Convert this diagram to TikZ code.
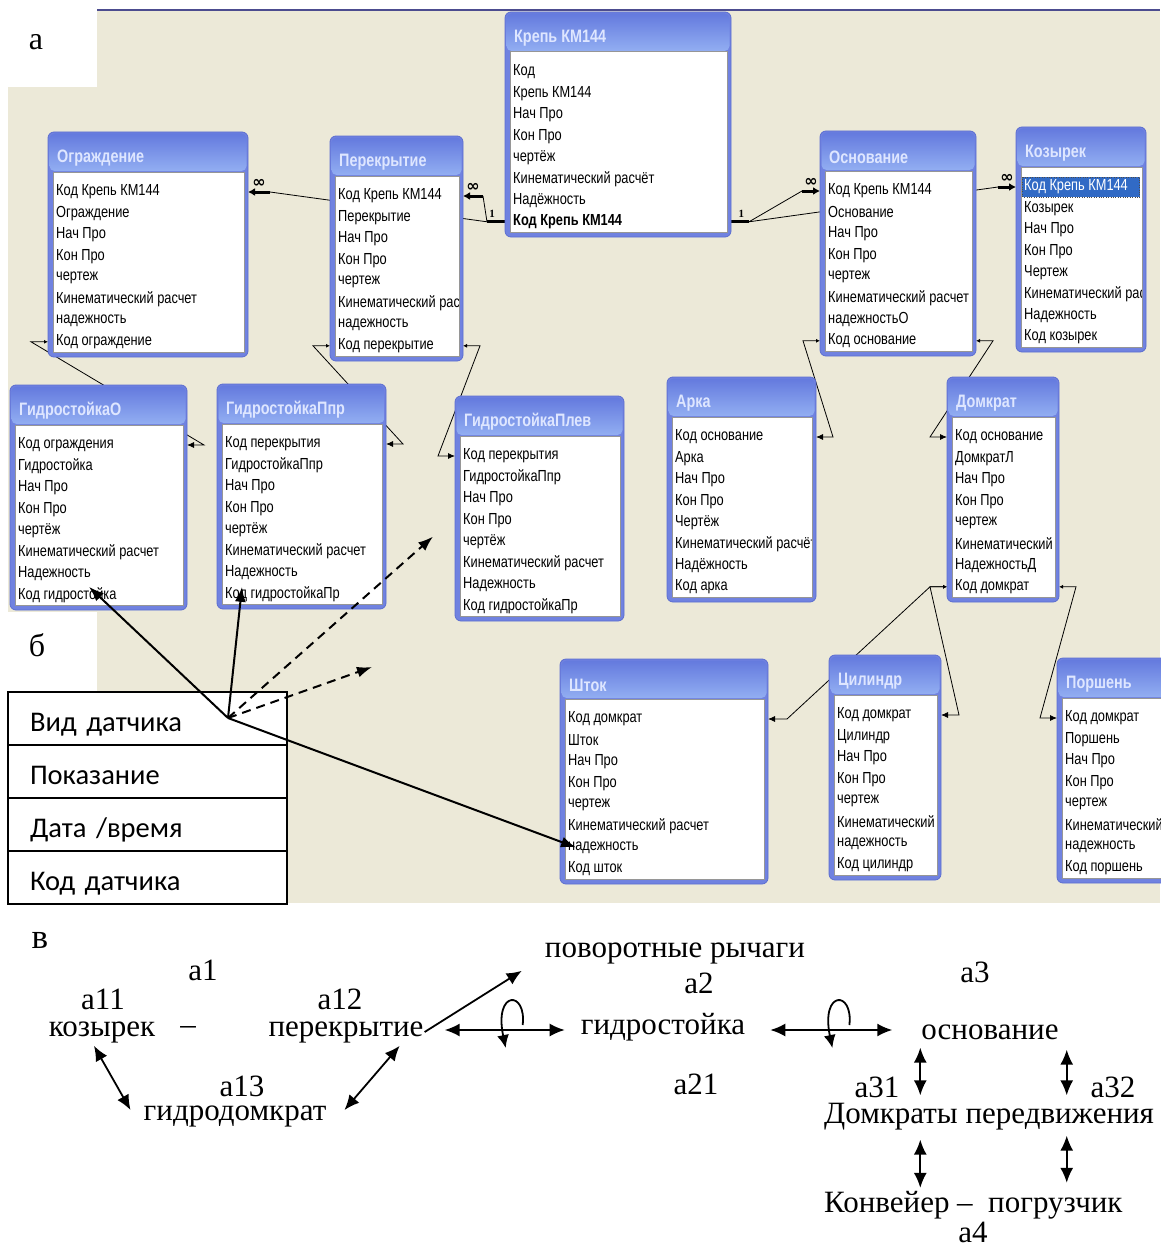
\documentclass[tikz,border=0pt]{standalone}
\usepackage{fontspec}
\usetikzlibrary{arrows.meta,calc,positioning}
\setmainfont{Liberation Serif}
\newfontfamily\acfont{Liberation Sans}[FakeStretch=0.8]
\newfontfamily\calfont{Carlito}
\newfontfamily\symfont{DejaVu Sans}

\definecolor{beige}{RGB}{236,233,216}
\definecolor{frameblue}{RGB}{112,130,224}
\definecolor{frameedge}{RGB}{92,110,208}
\definecolor{hdrtop}{RGB}{100,122,222}
\definecolor{hdrbot}{RGB}{146,174,242}
\definecolor{titlecol}{RGB}{222,230,255}
\definecolor{listedge}{RGB}{150,150,150}
\definecolor{selblue}{RGB}{49,106,197}

\pgfdeclarelayer{bg}
\pgfdeclarelayer{lines}
\pgfsetlayers{bg,lines,main}

\tikzset{
  tableframe/.style={draw=frameedge, fill=frameblue, rounded corners=6pt, line width=0.8pt,
                     inner sep=0pt, outer sep=0pt, anchor=north west, minimum height=225pt},
  tabletitle/.style={anchor=west, inner sep=0pt, text=titlecol,
                     font=\acfont\bfseries\fontsize{18}{20}\selectfont},
  field/.style={anchor=west, inner sep=0pt, font=\acfont\fontsize{16}{18}\selectfont},
  selfield/.style={field, text=white},
  joinline/.style={line width=0.8pt, {Latex[length=4pt,width=4pt]}-{Latex[length=7pt,width=6pt]}},
  onestub/.style={line width=3pt},
  manystub/.style={line width=3pt, -{Latex[length=7pt,width=8pt]}},
  onelab/.style={inner sep=1pt, font=\bfseries\fontsize{11}{11}\selectfont},
  inflab/.style={inner sep=0pt, font=\symfont\bfseries\fontsize{16}{16}\selectfont},
  sensrow/.style={draw, line width=1.5pt, fill=white, minimum width=279pt, minimum height=53pt,
                  text width=235pt, inner xsep=22pt, outer sep=0pt, align=left,
                  text height=29pt, text depth=4pt, font=\calfont\fontsize{28.5}{30}\selectfont},
  sensarrow/.style={line width=2pt, -{Latex[length=15pt,width=11pt]}},
  sensdash/.style={sensarrow, dash pattern=on 9pt off 6pt},
  word/.style={inner sep=1pt, font=\fontsize{31}{33}\selectfont},
  sglbar/.style={line width=1.8pt, -{Latex[length=15pt,width=13pt]}},
  dblbar/.style={line width=1.8pt, {Latex[length=15pt,width=13pt]}-{Latex[length=15pt,width=13pt]}},
  loopbar/.style={line width=1.8pt, -{Latex[length=13pt,width=12pt]}}
}

\newcommand{\dbtable}[7]{%
  \node[tableframe, minimum width=#4pt] (#1) at (#2,#3) {};
  \begin{scope}[shift={(#2,#3)}]
    \shade[top color=hdrtop, bottom color=hdrbot, rounded corners=5pt] (1.5,1.5) rectangle (#4-1.5,39);
    \fill[white] (5,40) rectangle (#4-4,220);
    \draw[listedge, line width=1pt] (5,40) rectangle (#4-4,220);
    \node[tabletitle] at (9,26) {#5};
    \begin{scope}
      \clip (6,41) rectangle (#4-5,219);
      \foreach \f [count=\i] in {#7} {
        \ifnum\i=#6
          \fill[selblue] (6,{60+21.4*(\i-1)-10}) rectangle (#4-6,{60+21.4*(\i-1)+10});
          \draw[black!70, dotted] (6.5,{60+21.4*(\i-1)-10}) rectangle (#4-6.5,{60+21.4*(\i-1)+10});
          \node[selfield] (#1-\i) at (8,{60+21.4*(\i-1)}) {\f};
        \else
          \node[field] (#1-\i) at (8,{60+21.4*(\i-1)}) {\f};
        \fi
      }
    \end{scope}
  \end{scope}}

\newcommand{\joinline}[6]{%
  \draw[joinline] (#1 |- #2) -- ++(#3,0) -- ($(#4 |- #5)+(#6,0)$) -- (#4 |- #5);}

\newcommand{\manyend}[4]{%
  \draw[line width=0.8pt] (#1) -- ($(#2 |- #3)+(#4,0)$);
  \draw[manystub] ($(#2 |- #3)+(#4,0)$) -- node[midway, above=3pt, inflab] {∞} (#2 |- #3);}

\begin{document}
\begin{tikzpicture}[x=1pt, y=-1pt]
  \useasboundingbox (0,0) rectangle (1160,1244);

  \begin{pgfonlayer}{bg}
    \fill[beige] (8,10) rectangle (1160,903);
    \fill[white] (0,0) rectangle (97,87);
    \fill[white] (0,612) rectangle (97,692);
    \draw[line width=2pt, black!35!blue!40!gray] (97,10) -- (1160,10);
  \end{pgfonlayer}

  \node[word, font=\fontsize{32}{34}\selectfont] (alab) at (36,42) {а};
  \node[word, font=\fontsize{32}{34}\selectfont] (blab) at (37,645) {б};

  \dbtable{krep}{505}{12}{226}{Крепь КМ144}{0}{Код, Крепь КМ144, Нач Про, Кон Про, чертёж,
    Кинематический расчёт, Надёжность, {\bfseries Код Крепь КМ144}}
  \dbtable{ogr}{48}{132}{200}{Ограждение}{0}{Код Крепь КМ144, Ограждение, Нач Про, Кон Про, чертеж,
    Кинематический расчет, надежность, Код ограждение}
  \dbtable{per}{330}{136}{133}{Перекрытие}{0}{Код Крепь КМ144, Перекрытие, Нач Про, Кон Про, чертеж,
    Кинематический расчет, надежность, Код перекрытие}
  \dbtable{osn}{820}{131}{156}{Основание}{0}{Код Крепь КМ144, Основание, Нач Про, Кон Про, чертеж,
    Кинематический расчет, надежностьО, Код основание}
  \dbtable{koz}{1016}{127}{130}{Козырек}{1}{Код Крепь КМ144, Козырек, Нач Про, Кон Про, Чертеж,
    Кинематический расчет, Надежность, Код козырек}
  \dbtable{g0}{10}{385}{177}{ГидростойкаО}{0}{Код ограждения, Гидростойка, Нач Про, Кон Про, чертёж,
    Кинематический расчет, Надежность, Код гидростойка}
  \dbtable{gppr}{217}{384}{169}{ГидростойкаПпр}{0}{Код перекрытия, ГидростойкаПпр, Нач Про, Кон Про, чертёж,
    Кинематический расчет, Надежность, Код гидростойкаПр}
  \dbtable{gplev}{455}{396}{169}{ГидростойкаПлев}{0}{Код перекрытия, ГидростойкаПпр, Нач Про, Кон Про, чертёж,
    Кинематический расчет, Надежность, Код гидростойкаПр}
  \dbtable{arka}{667}{377}{149}{Арка}{0}{Код основание, Арка, Нач Про, Кон Про, Чертёж,
    Кинематический расчёт, Надёжность, Код арка}
  \dbtable{domk}{947}{377}{112}{Домкрат}{0}{Код основание, ДомкратЛ, Нач Про, Кон Про, чертеж,
    Кинематический, НадежностьД, Код домкрат}
  \dbtable{shtok}{560}{659}{208}{Шток}{0}{Код домкрат, Шток, Нач Про, Кон Про, чертеж,
    Кинематический расчет, надежность, Код шток}
  \dbtable{cyl}{829}{655}{112}{Цилиндр}{0}{Код домкрат, Цилиндр, Нач Про, Кон Про, чертеж,
    Кинематический, надежность, Код цилиндр}
  \dbtable{porsh}{1057}{658}{120}{Поршень}{0}{Код домкрат, Поршень, Нач Про, Кон Про, чертеж,
    Кинематический, надежность, Код поршень}

  \begin{pgfonlayer}{lines}
    \draw[onestub] (krep.west |- krep-8) -- node[pos=.72, above=2pt, onelab] {1} ++(-18,0) coordinate (k1);
    \manyend{k1}{ogr.east}{ogr-1}{22}
    \manyend{k1}{per.east}{per-1}{20}
    \draw[onestub] (krep.east |- krep-8) -- node[pos=.58, above=2pt, onelab] {1} ++(18,0) coordinate (k2);
    \manyend{k2}{osn.west}{osn-1}{-18}
    \manyend{k2}{koz.west}{koz-1}{-18}

    \joinline{ogr.west}{ogr-8}{-17}{g0.east}{g0-1}{17}
    \joinline{per.west}{per-8}{-17}{gppr.east}{gppr-1}{17}
    \joinline{per.east}{per-8}{17}{gplev.west}{gplev-1}{-17}
    \joinline{osn.west}{osn-8}{-17}{arka.east}{arka-1}{17}
    \joinline{osn.east}{osn-8}{17}{domk.west}{domk-1}{-17}
    \joinline{domk.west}{domk-8}{-17}{shtok.east}{shtok-1}{19}
    \joinline{domk.west}{domk-8}{-17}{cyl.east}{cyl-1}{18}
    \joinline{domk.east}{domk-8}{17}{porsh.west}{porsh-1}{-17}
  \end{pgfonlayer}

  \node[sensrow, anchor=north west] (vid) at (8,692) {Вид датчика};
  \node[sensrow, below=0pt of vid] (pok) {Показание};
  \node[sensrow, below=0pt of pok] (dat) {Дата /время};
  \node[sensrow, below=0pt of dat] (kodd) {Код датчика};

  \coordinate (vidpt) at (228,718);
  \coordinate (dashB) at (372,667);
  \draw[sensarrow] (vidpt) -- ($(g0-8.west)+(71,-8)$);
  \draw[sensarrow] (vidpt) -- ($(gppr-8.west)+(17,-7)$);
  \draw[sensarrow] (vidpt) -- ($(shtok-7.west)+(8,0)$);
  \draw[sensdash] (vidpt) -- ($(gplev-5.west)+(-30,-5)$);
  \draw[sensdash] (vidpt) -- (dashB);

  \node[word, font=\fontsize{35}{37}\selectfont] (vlab) at (40,940) {в};
  \node[word] (a1)   at (203,970)  {а1};
  \node[word] (a11)  at (103,999)  {а11};
  \node[word] (koz2) at (102,1032) {козырек};
  \node[word] (tire) at (188,1030) {–};
  \node[word] (a12)  at (340,999)  {а12};
  \node[word] (per2) at (346,1032) {перекрытие};
  \node[word] (povr) at (675,953)  {поворотные рычаги};
  \node[word] (a2)   at (699,983)  {а2};
  \node[word] (hyd)  at (663,1027) {гидростойка};
  \node[word] (a21)  at (696,1084) {а21};
  \node[word] (a3)   at (975,972)  {а3};
  \node[word] (osn2) at (990,1032) {основание};
  \node[word] (a13)  at (242,1086) {а13};
  \node[word] (gdk)  at (235,1116) {гидродомкрат};
  \node[word] (a31)  at (877,1087) {а31};
  \node[word] (a32)  at (1113,1087) {а32};
  \node[word, anchor=west] (domkr) at (823,1117) {Домкраты передвижения};
  \node[word, anchor=west] (konv)  at (823,1205) {Конвейер~–~~погрузчик};
  \node[word] (a4)   at (973,1232) {а4};

  \draw[sglbar] (per2.east) -- ($(povr.south west)+(-22,6)$);
  \draw[dblbar] ($(per2.east)+(20,-2)$) -- coordinate[pos=.55] (l1) ($(hyd.west)+(-15,3)$);
  \draw[dblbar] ($(hyd.east)+(24,3)$) -- coordinate[pos=.55] (l2) ($(osn2.west)+(-28,-2)$);
  \foreach \lp in {l1,l2}
    \draw[loopbar] ([shift={(12,-5)}]\lp) .. controls ([shift={(16,-40)}]\lp)
      and ([shift={(-17,-40)}]\lp) .. ([shift={(-5,18)}]\lp);
  \draw[dblbar] ($(koz2.south)+(-8,2)$) -- ($(gdk.west)+(-12,-6)$);
  \draw[dblbar] ($(gdk.east)+(17,-6)$) -- ($(per2.south east)+(-25,2)$);
  \draw[dblbar] ($(osn2.south west)+(0,7)$) -- ($(osn2.south west |- domkr.north)+(0,-7)$);
  \draw[dblbar] ($(osn2.south east)+(7,9)$) -- ($(osn2.south east |- domkr.north)+(7,-7)$);
  \draw[dblbar] ($(osn2.south west |- domkr.south)+(0,8)$) -- ($(osn2.south west |- konv.north)+(0,-2)$);
  \draw[dblbar] ($(osn2.south east |- domkr.south)+(7,4)$) -- ($(osn2.south east |- konv.north)+(7,-7)$);
\end{tikzpicture}
\end{document}
